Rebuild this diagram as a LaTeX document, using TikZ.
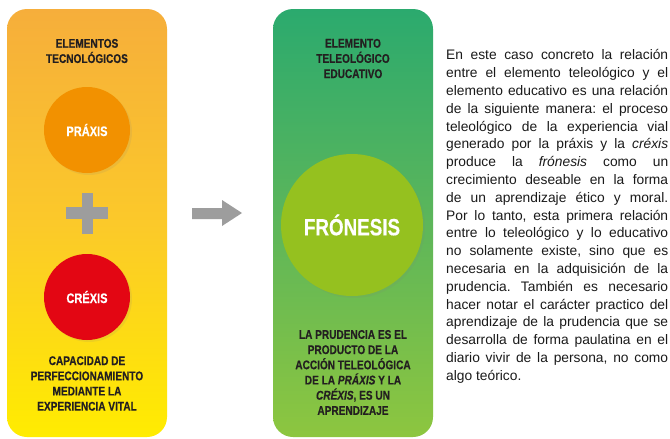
\documentclass[tikz,border=0pt]{standalone}
\usepackage{fontspec}
\setmainfont{Liberation Sans}
\newfontfamily\condfont[FakeStretch=0.8,BoldFeatures={FakeBold=0.4},BoldItalicFeatures={FakeBold=0.4}]{Liberation Sans}
\usetikzlibrary{shadows}
\definecolor{ltop}{HTML}{F6AE3B}
\definecolor{lmid}{HTML}{FBC92A}
\definecolor{lbot}{HTML}{FFEC00}
\definecolor{gtop}{HTML}{2BAA6E}
\definecolor{gmid}{HTML}{5DB65A}
\definecolor{gbot}{HTML}{8DC63F}
\definecolor{praxisc}{HTML}{F29100}
\definecolor{crexisc}{HTML}{E30613}
\definecolor{fronc}{HTML}{95C11F}
\definecolor{greyc}{HTML}{9D9D9D}
\definecolor{textdark}{HTML}{231F20}
\definecolor{bodytext}{HTML}{1A1A1A}
\newcommand\jline[1]{\makebox[222pt][s]{#1}}
\frenchspacing
\begin{document}
\begin{tikzpicture}[x=1pt,y=-1pt,
  panel/.style={rectangle, rounded corners=20pt, minimum width=160pt, minimum height=428pt, inner sep=0pt},
  lab/.style={font=\condfont\bfseries\fontsize{12.6}{15.2}\selectfont, text=textdark, align=center, inner sep=0pt},
  circ/.style={circle, inner sep=0pt, text=white, drop shadow={shadow xshift=2pt, shadow yshift=-2pt, opacity=0.12}},
  shapegrey/.style={fill=greyc}
]
\useasboundingbox (0,0) rectangle (670,439);
\fill[white] (0,0) rectangle (670,439);

% left panel
\node[panel, top color=ltop, bottom color=lbot, middle color=lmid] (left) at (87,223) {};
\node[lab] (ltitle) at (87,51) {ELEMENTOS\\TECNOLÓGICOS};
\node[circ, fill=praxisc, minimum size=86pt, font=\condfont\bfseries\fontsize{13.8}{15}\selectfont] (praxis) at (87,130) {PRÁXIS};
\fill[shapegrey] (66,207) rectangle (108,219);
\fill[shapegrey] (82,193) rectangle (93,234);
\node[circ, fill=crexisc, minimum size=86pt, font=\condfont\bfseries\fontsize{13.8}{15}\selectfont] (crexis) at (87,297) {CRÉXIS};
\node[lab] (lbottom) at (87,383.5) {CAPACIDAD DE\\PERFECCIONAMIENTO\\MEDIANTE LA\\EXPERIENCIA VITAL};

% arrow
\fill[shapegrey] (192,208) -- (222,208) -- (222,200) -- (242,213) -- (222,226) -- (222,219) -- (192,219) -- cycle;

% green panel
\node[panel, top color=gtop, bottom color=gbot, middle color=gmid] (right) at (353,223) {};
\node[lab] (rtitle) at (353,58.5) {ELEMENTO\\TELEOLÓGICO\\EDUCATIVO};
\node[circ, fill=fronc, minimum size=142pt, font=\condfont\bfseries\fontsize{23.5}{26}\selectfont] (fronesis) at (352,225) {FRÓNESIS};
\node[lab] (rbottom) at (353,372.5) {LA PRUDENCIA ES EL\\PRODUCTO DE LA\\ACCIÓN TELEOLÓGICA\\DE LA \textit{PRÁXIS} Y LA\\\textit{CRÉXIS}, ES UN\\APRENDIZAJE};

% body text
\node[anchor=north west, inner sep=0pt, align=left, text=bodytext, font=\fontsize{13.8}{17.8}\selectfont] (body) at (446,49.5) {%
\jline{En este caso concreto la relación}\\
\jline{entre el elemento teleológico y el}\\
\jline{elemento educativo es una relación}\\
\jline{de la siguiente manera: el proceso}\\
\jline{teleológico de la experiencia vial}\\
\jline{generado por la práxis y la \textit{créxis}}\\
\jline{produce la \textit{frónesis} como un}\\
\jline{crecimiento deseable en la forma}\\
\jline{de un aprendizaje ético y moral.}\\
\jline{Por lo tanto, esta primera relación}\\
\jline{entre lo teleológico y lo educativo}\\
\jline{no solamente existe, sino que es}\\
\jline{necesaria en la adquisición de la}\\
\jline{prudencia. También es necesario}\\
\jline{hacer notar el carácter practico del}\\
\jline{aprendizaje de la prudencia que se}\\
\jline{desarrolla de forma paulatina en el}\\
\jline{diario vivir de la persona, no como}\\
algo teórico.};
\end{tikzpicture}
\end{document}
